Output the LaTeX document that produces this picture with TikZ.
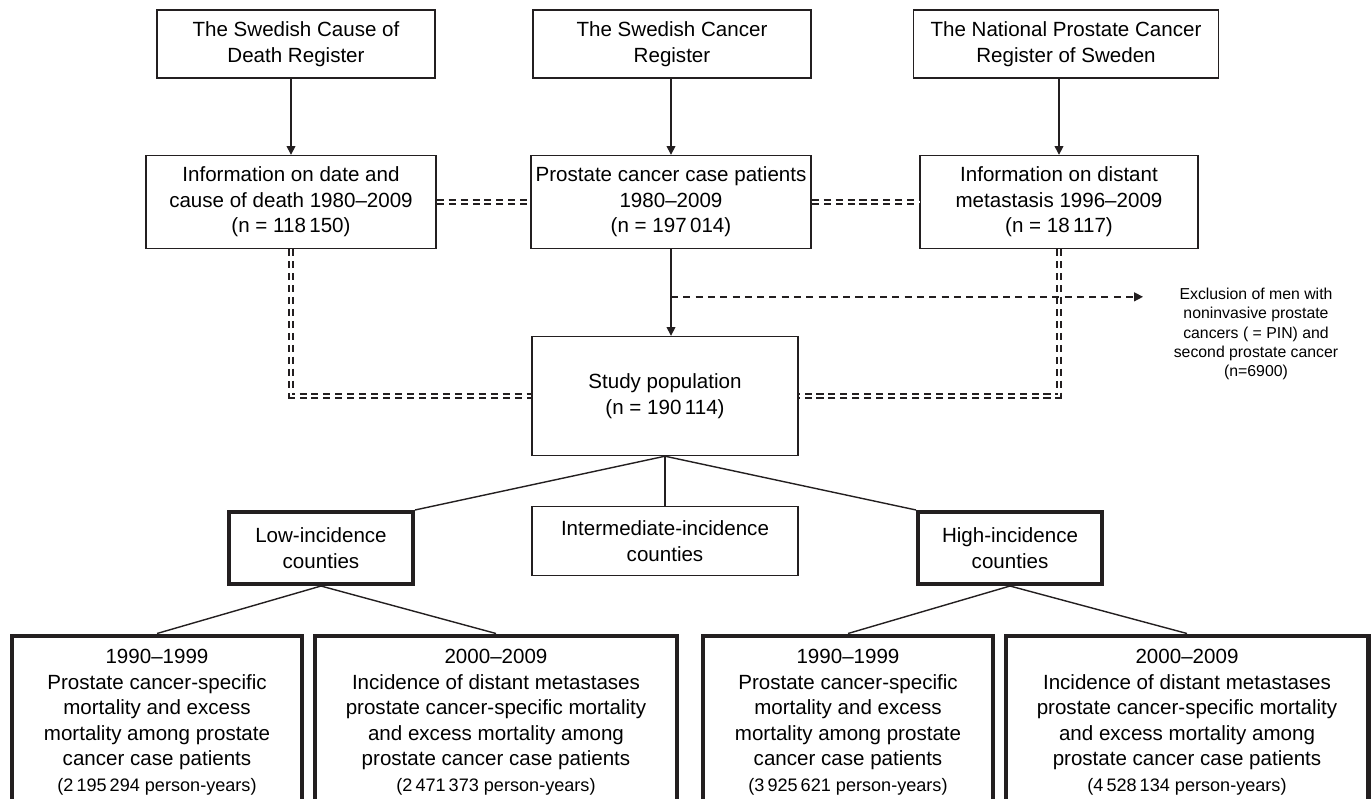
\documentclass[tikz,border=0pt]{standalone}
\usepackage{fontspec}
\setmainfont{Liberation Sans}
\usetikzlibrary{arrows.meta, positioning, calc}
\definecolor{inkgray}{RGB}{35, 31, 32}

\begin{document}
\begin{tikzpicture}[x=0.02cm, y=-0.02cm,
  box/.style={draw=inkgray, line width=0.8pt, align=center, inner sep=0pt, font=\fontsize{11.7}{14.5}\selectfont},
  thickbox/.style={box, line width=2.3pt},
  conn/.style={inkgray, line width=0.8pt},
  tolink/.style={conn, -{Triangle[length=5pt, width=5pt]}},
  dbl/.style={inkgray, line width=0.8pt, double=white, double distance=1.5pt, dash pattern=on 4pt off 2.8pt},
  exclarrow/.style={conn, dash pattern=on 4pt off 3pt, -{Triangle[length=5pt, width=5pt]}}]
  \useasboundingbox (0,0) rectangle (1372,798);

  % Registers
  \node[box, minimum width=5.56cm, minimum height=1.36cm] (deathreg) at (296, 44) {The Swedish Cause of\\Death Register};
  \node[box, minimum width=5.56cm, minimum height=1.36cm] (cancerreg) at (672, 44) {The Swedish Cancer\\Register};
  \node[box, minimum width=6.1cm, minimum height=1.36cm] (npcr) at (1066, 44) {The National Prostate Cancer\\Register of Sweden};

  % Data taken from the registers
  \node[box, minimum width=5.8cm, minimum height=1.86cm] (deathinfo) at (291, 202) {Information on date and\\cause of death 1980--2009\\(n = 118\,150)};
  \node[box, minimum width=5.6cm, minimum height=1.86cm] (cases) at (671, 202) {Prostate cancer case patients\\1980--2009\\(n = 197\,014)};
  \node[box, minimum width=5.56cm, minimum height=1.86cm] (metainfo) at (1059, 202) {Information on distant\\metastasis 1996--2009\\(n = 18\,117)};

  % Study population
  \node[box, minimum width=5.32cm, minimum height=2.38cm] (study) at (665, 396) {Study population\\(n = 190\,114)};

  % Exclusion
  \node[font=\fontsize{9}{11}\selectfont, align=center, inner sep=0pt] (excl) at (1256, 334) {Exclusion of men with\\noninvasive prostate\\cancers ( = PIN) and\\second prostate cancer\\(n=6900)};
  \coordinate (split) at ($(cases.south)!0.55!(cases.south |- study.north)$);
  \coordinate (exclend) at (1143, 298);

  % Counties
  \node[thickbox, minimum width=3.68cm, minimum height=1.44cm] (lowinc) at (321, 548) {Low-incidence\\counties};
  \node[box, minimum width=5.32cm, minimum height=1.38cm] (midinc) at (665, 541) {Intermediate-incidence\\counties};
  \node[thickbox, minimum width=3.68cm, minimum height=1.44cm] (highinc) at (1010, 548) {High-incidence\\counties};

  % Periods
  \node[thickbox, minimum width=5.8cm, minimum height=3.46cm] (lowearly) at (157, 722) {1990--1999\\Prostate cancer-specific\\mortality and excess\\mortality among prostate\\cancer case patients\\{\fontsize{10.3}{14.5}\selectfont(2\,195\,294 person-years)}};
  \node[thickbox, minimum width=7.26cm, minimum height=3.46cm] (lowlate) at (496, 722) {2000--2009\\Incidence of distant metastases\\prostate cancer-specific mortality\\and excess mortality among\\prostate cancer case patients\\{\fontsize{10.3}{14.5}\selectfont(2\,471\,373 person-years)}};
  \node[thickbox, minimum width=5.8cm, minimum height=3.46cm] (highearly) at (848, 722) {1990--1999\\Prostate cancer-specific\\mortality and excess\\mortality among prostate\\cancer case patients\\{\fontsize{10.3}{14.5}\selectfont(3\,925\,621 person-years)}};
  \node[thickbox, minimum width=7.26cm, minimum height=3.46cm] (highlate) at (1187, 722) {2000--2009\\Incidence of distant metastases\\prostate cancer-specific mortality\\and excess mortality among\\prostate cancer case patients\\{\fontsize{10.3}{14.5}\selectfont(4\,528\,134 person-years)}};

  % Arrows and links
  \draw[tolink] (deathreg.south -| deathinfo.north) -- (deathinfo.north);
  \draw[tolink] (cancerreg.south -| cases.north) -- (cases.north);
  \draw[tolink] (npcr.south -| metainfo.north) -- (metainfo.north);
  \draw[dbl] (deathinfo.east) -- (cases.west);
  \draw[dbl] (cases.east) -- (metainfo.west);
  \draw[dbl] (deathinfo.south) |- (study.west);
  \draw[dbl] (metainfo.south) |- (study.east);
  \draw[tolink] (cases.south) -- (cases.south |- study.north);
  \draw[exclarrow] (split) -- (split -| exclend);

  \draw[conn] (study.south) -- (lowinc.north east);
  \draw[conn] (study.south) -- (midinc.north);
  \draw[conn] (study.south) -- (highinc.north west);
  \draw[conn] (lowinc.south) -- (lowearly.north);
  \draw[conn] (lowinc.south) -- (lowlate.north);
  \draw[conn] (highinc.south) -- (highearly.north);
  \draw[conn] (highinc.south) -- (highlate.north);
\end{tikzpicture}
\end{document}
